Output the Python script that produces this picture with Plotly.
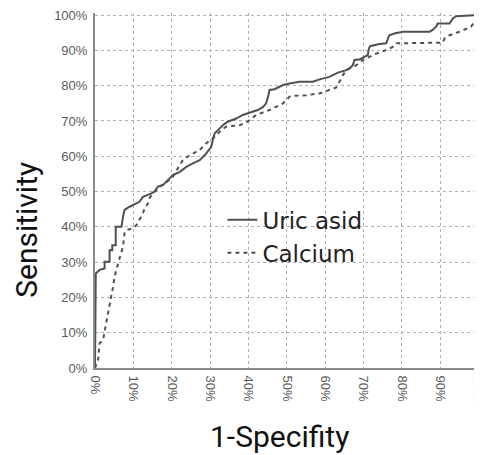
import plotly.graph_objects as go

# 1 - specificity (%) and sensitivity (%)
uric_x = [0, 0.2, 1.2, 2.5, 2.5, 3.8, 3.8, 4.5, 4.5, 5.4, 5.4, 6.9, 7.3, 7.7, 9.0, 9.9, 11.6, 12.5,
          13.8, 14.7, 15.5, 16.4, 17.7, 18.6, 20.3, 22.1, 23.8, 25.5, 27.3, 29.0, 30.3, 30.7, 31.2,
          32.5, 33.3, 34.6, 36.8, 38.5, 41.1, 42.4, 43.8, 44.6, 45.1, 45.5, 46.8, 49.0, 50.7, 53.3,
          56.8, 58.5, 61.1, 63.3, 65.5, 66.3, 67.2, 67.6, 68.9, 69.8, 71.1, 71.4, 71.7, 74.1, 75.9,
          76.7, 78.0, 80.2, 87.2, 88.0, 88.9, 89.3, 92.4, 93.2, 94.1, 100]
uric_y = [0, 26.8, 27.8, 28.2, 30.1, 30.1, 33.4, 33.4, 34.8, 34.8, 40.0, 40.0, 42.9, 44.8, 45.7, 46.2,
          47.1, 48.5, 49.0, 49.5, 50.0, 51.4, 51.8, 52.8, 54.7, 55.6, 57.0, 58.0, 58.9, 60.8, 62.7,
          64.6, 66.5, 67.9, 68.8, 69.8, 70.7, 71.7, 72.6, 73.1, 74.0, 75.0, 76.9, 78.8, 79.0, 80.2,
          80.6, 81.1, 81.1, 81.8, 82.5, 83.7, 84.4, 84.9, 85.8, 87.3, 87.4, 88.0, 88.7, 90.6, 91.2,
          91.8, 92.0, 94.3, 94.8, 95.3, 95.3, 95.8, 96.7, 97.6, 97.6, 99.0, 99.7, 100]

calcium_x = [0, 0.8, 1.2, 2.1, 2.5, 3.0, 3.4, 3.8, 4.3, 4.7, 5.1, 5.6, 6.0, 6.4, 7.3, 7.7, 8.2, 9.9,
             10.8, 11.6, 12.5, 12.9, 13.8, 14.2, 15.1, 16.0, 16.8, 18.2, 20.3, 21.6, 22.9, 24.7, 27.3,
             29.0, 31.2, 32.9, 34.2, 37.7, 39.8, 42.0, 45.5, 49.0, 50.7, 51.6, 55.0, 58.5, 61.1, 62.9,
             63.7, 64.6, 65.5, 68.1, 69.8, 71.5, 73.3, 75.9, 77.6, 78.5, 90.6, 91.1, 92.4, 95.0, 96.7,
             98.0, 98.9, 99.3, 100]
calcium_y = [0, 2.3, 7.0, 7.9, 10.3, 13.1, 15.0, 17.4, 20.2, 23.0, 25.9, 28.2, 30.1, 31.1, 34.4, 38.2,
             39.1, 39.6, 40.5, 41.9, 43.8, 45.2, 46.6, 48.1, 49.5, 50.4, 51.4, 52.3, 54.2, 56.6, 58.9,
             60.3, 61.8, 63.7, 65.5, 67.4, 68.4, 68.8, 69.8, 71.7, 73.1, 75.0, 76.9, 77.1, 77.3, 77.8,
             78.8, 79.5, 81.1, 83.0, 84.4, 85.8, 87.3, 88.2, 89.1, 90.1, 91.0, 92.0, 92.2, 93.4, 94.3,
             95.3, 96.2, 96.7, 98.1, 99.0, 100]

tick_vals = [0, 10, 20, 30, 40, 50, 60, 70, 80, 90, 100]
tick_text = ["0%", "10%", "20%", "30%", "40%", "50%", "60%", "70%", "80%", "90%", "100%"]

fig = go.Figure()
fig.add_trace(go.Scatter(x=uric_x, y=uric_y, mode="lines", name="Uric asid",
                         line=dict(color="#505050", width=2)))
fig.add_trace(go.Scatter(x=calcium_x, y=calcium_y, mode="lines", name="Calcium",
                         line=dict(color="#505050", width=2, dash="4px,4px")))

axis_common = dict(
    range=[0, 100.6], tickvals=tick_vals, ticktext=tick_text,
    showgrid=True, gridcolor="#b0b0b0", gridwidth=1, griddash="3px,3px",
    zeroline=False, showline=True, linecolor="#8a8a8a", linewidth=2,
    tickfont=dict(family="Liberation Sans, Arial", size=13, color="#5a5a5a"),
    ticks="", automargin=False, ticklabeloverflow="allow",
)

# the page body keeps its default 8px margin, so the figure is sized to fit the window
fig.update_layout(
    width=474, height=447,
    margin=dict(l=87, r=1, t=5, b=87),
    paper_bgcolor="white", plot_bgcolor="white",
    xaxis=dict(**axis_common, tickangle=90, ticklabelstandoff=3),
    yaxis=dict(**axis_common, ticklabelstandoff=3),
    showlegend=True,
    legend=dict(x=0.33, y=0.478, xanchor="left", yanchor="top",
                bgcolor="rgba(0,0,0,0)", borderwidth=0,
                font=dict(family="DejaVu Sans", size=23, color="#222222"),
                itemwidth=30, tracegroupgap=0),
    annotations=[
        dict(text="Sensitivity", xref="paper", yref="paper", x=-0.178, y=0.39,
             xanchor="center", yanchor="middle", textangle=-90, showarrow=False,
             font=dict(family="Roboto", size=30, color="#111111")),
        dict(text="1-Specifity", xref="paper", yref="paper", x=0.479, y=-0.193,
             xanchor="center", yanchor="middle", showarrow=False,
             font=dict(family="Roboto", size=30, color="#111111")),
    ],
)

fig.write_html("out.html")
